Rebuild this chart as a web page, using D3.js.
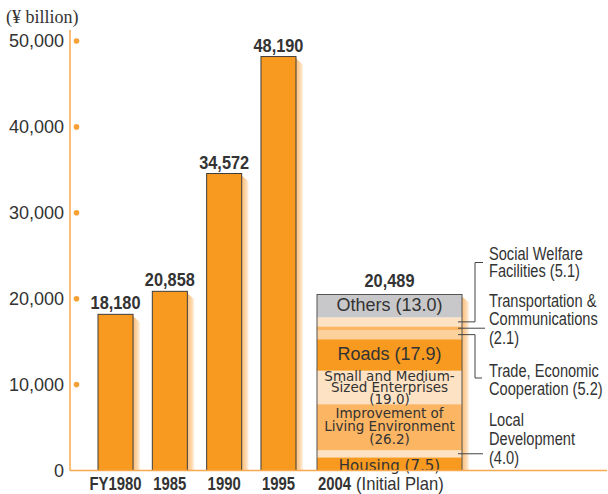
<!DOCTYPE html>
<html>
<head>
<meta charset="utf-8">
<script src="https://cdn.jsdelivr.net/npm/d3@7"></script>
<style>
  html, body { margin: 0; padding: 0; background: #fff; }
  svg { display: block; }
</style>
</head>
<body>
<div id="viz"></div>
<script>

// data
var years = ["FY1980", "1985", "1990", "1995"];
var totals = [18180, 20858, 34572, 48190];

var planYear = "2004";
var planNote = "(Initial Plan)";
var planTotal = 20489;
// shares (%) of the 2004 initial plan, bottom to top
var segNames = ["Housing", "Local Development", "Improvement of Living Environment",
  "Small and Medium-Sized Enterprises", "Roads", "Trade, Economic Cooperation",
  "Transportation & Communications", "Social Welfare Facilities", "Others"];
var segShares = [7.5, 4.0, 26.2, 19.0, 17.9, 5.2, 2.1, 5.1, 13.0];

var yTicks = [0, 10000, 20000, 30000, 40000, 50000];

var W = 608, H = 494;
var orange = "#f89a1f";
var axisCol = "#f9a94d";
var ink = "#333";
var sans = "'Liberation Sans', Arial, sans-serif";

var svg = d3.select("#viz").append("svg")
  .attr("width", W).attr("height", H);

var y = d3.scaleLinear().domain([0, 50000]).range([470.5, 41]);

var x = d3.scaleBand().domain(years).range([98, 296])
  .paddingInner(0.355).paddingOuter(0);

// the 2004 bar is wider, has its own span
var xPlan = d3.scaleBand().domain([planYear]).range([317, 462]);

// condensed text (no condensed face installed, so squash Liberation Sans)
// lines is a string or array, gap = line spacing
function ntext(px, py, anchor, size, weight, lines, gap, sq)
{
  if (typeof lines === "string") lines = [lines];
  var g = svg.append("g")
    .attr("transform", "translate(" + px + "," + py + ") scale(" + sq + ",1)");
  var t = g.append("text")
    .attr("text-anchor", anchor)
    .style("font-family", sans).style("font-weight", weight)
    .style("font-size", size + "px").style("fill", ink);
  lines.forEach(function(l, k) {
    t.append("tspan").attr("x", 0).attr("y", k * (gap || 0)).text(l);
  });
  return t;
}

// shadow gradient
var defs = svg.append("defs");
var grad = defs.append("linearGradient").attr("id", "shade")
  .attr("x1", "0%").attr("x2", "100%").attr("y1", "0%").attr("y2", "0%");
grad.append("stop").attr("offset", "0%").attr("stop-color", "#fbbd78");
grad.append("stop").attr("offset", "60%").attr("stop-color", "#fdd8ad");
grad.append("stop").attr("offset", "100%").attr("stop-color", "#fff4e6");

function shadow(x1, top)
{
  var w = 7;
  svg.append("path")
    .attr("d", "M" + x1 + "," + (top + 2) + " L" + (x1 + w) + "," + (top + 8) +
      " L" + (x1 + w) + "," + y(0) + " L" + x1 + "," + y(0) + "Z")
    .style("fill", "url(#shade)");
}

// unit label
svg.append("text")
  .attr("x", 6).attr("y", 23)
  .style("font-family", "'Liberation Serif', 'DejaVu Serif', serif")
  .style("font-size", "18px").style("fill", ink)
  .text("(\u00a5 billion)");

// y axis
svg.append("line")
  .attr("x1", 70).attr("x2", 70).attr("y1", 30).attr("y2", y(0))
  .style("stroke", axisCol).style("stroke-width", 1.5);

var fmt = d3.format(",");
svg.selectAll(".ytick").data(yTicks).enter().append("text")
  .attr("x", 64).attr("y", function(d) { return y(d); })
  .attr("dy", "0.36em")
  .attr("text-anchor", "end")
  .style("font-family", sans)
  .style("font-size", "18px").style("fill", ink)
  .text(function(d) { return fmt(d); });

svg.selectAll(".ydot").data(yTicks.filter(function(d) { return d > 0; })).enter()
  .append("circle")
  .attr("cx", 76.5).attr("cy", function(d) { return y(d); })
  .attr("r", 2.8).style("fill", "#f7a036");

// shadows first so bars sit on top
years.forEach(function(yr, i) {
  shadow(x(yr) + x.bandwidth(), y(totals[i]));
});
shadow(xPlan(planYear) + xPlan.bandwidth(), y(planTotal));

// simple bars
svg.selectAll(".bar").data(years).enter().append("rect")
  .attr("x", function(d) { return x(d); })
  .attr("y", function(d, i) { return y(totals[i]); })
  .attr("width", x.bandwidth())
  .attr("height", function(d, i) { return y(0) - y(totals[i]); })
  .style("fill", orange).style("stroke", "#3d3d3d").style("stroke-width", 1);

years.forEach(function(yr, i) {
  ntext(x(yr) + x.bandwidth() / 2, y(totals[i]) - 5, "middle", 19, "bold",
    fmt(totals[i]), 0, 0.86);
});

// stacked 2004 bar
var segColors = ["#f89a1f", "#fde2c4", "#fbb563", "#fde2c4", "#f89a1f",
  "#fdd19c", "#fbb563", "#fde2c4", "#c8c8ca"];
var cum = 0;
var segs = segShares.map(function(s, i) {
  var v0 = cum / 100 * planTotal;
  cum += s;
  var v1 = cum / 100 * planTotal;
  return { name: segNames[i], share: s, v0: v0, v1: v1, color: segColors[i] };
});

var px0 = xPlan(planYear), pw = xPlan.bandwidth(), pcx = px0 + pw / 2;

svg.selectAll(".seg").data(segs).enter().append("rect")
  .attr("x", px0).attr("width", pw)
  .attr("y", function(d) { return y(d.v1); })
  .attr("height", function(d) { return y(d.v0) - y(d.v1); })
  .style("fill", function(d) { return d.color; });

svg.append("rect")
  .attr("x", px0).attr("width", pw)
  .attr("y", y(planTotal)).attr("height", y(0) - y(planTotal))
  .style("fill", "none").style("stroke", "#555").style("stroke-width", 1);

ntext(pcx, y(planTotal) - 7, "middle", 19, "bold", fmt(planTotal), 0, 0.86);

// labels inside the stacked bar
function segMid(i) { return y((segs[i].v0 + segs[i].v1) / 2); }

function inLabel(lines, cy, size, gap, family)
{
  var t = svg.append("text")
    .attr("text-anchor", "middle")
    .style("font-family", family).style("font-size", size + "px").style("fill", ink);
  var first = cy - (lines.length - 1) * gap / 2 + size * 0.36;
  lines.forEach(function(l, k) {
    t.append("tspan").attr("x", pcx).attr("y", first + k * gap).text(l);
  });
}

var wide = "'DejaVu Sans', Verdana, sans-serif";
inLabel(["Others (" + segShares[8].toFixed(1) + ")"], segMid(8) - 1, 18, 0, sans);
inLabel(["Roads (" + segShares[4].toFixed(1) + ")"], segMid(4) - 1, 18, 0, sans);
inLabel(["Small and Medium-", "Sized Enterprises", "(" + segShares[3].toFixed(1) + ")"],
  segMid(3), 13.5, 11.5, wide);
inLabel(["Improvement of", "Living Environment", "(" + segShares[2].toFixed(1) + ")"],
  segMid(2) - 1, 13.5, 13, wide);
inLabel(["Housing (" + segShares[0].toFixed(1) + ")"], segMid(0) + 2, 15, 0, wide);

// call-outs on the right
var lineCol = "#444";
function path(pts)
{
  svg.append("path")
    .attr("d", d3.line()(pts))
    .style("fill", "none").style("stroke", lineCol).style("stroke-width", 1);
}
var lx0 = px0 + pw - 4, bx = 475, tx = 489;

path([[lx0, segMid(7)], [bx, segMid(7)], [bx, 262.5], [483, 262.5]]);
path([[lx0, segMid(6)], [485, segMid(6)]]);
path([[lx0, segMid(5)], [bx, segMid(5)], [bx, 378], [482, 378]]);
path([[lx0, segMid(1)], [483, segMid(1)]]);

var csz = 18.5, csq = 0.79;
ntext(tx, 260, "start", csz, "normal",
  ["Social Welfare", "Facilities (" + segShares[7].toFixed(1) + ")"], 17.5, csq);
ntext(tx, 307, "start", csz, "normal",
  ["Transportation &", "Communications", "(" + segShares[6].toFixed(1) + ")"], 18.5, csq);
ntext(tx, 377, "start", csz, "normal",
  ["Trade, Economic", "Cooperation (" + segShares[5].toFixed(1) + ")"], 18, csq);
ntext(tx, 426, "start", csz, "normal",
  ["Local", "Development", "(" + segShares[1].toFixed(1) + ")"], 19, csq);

// baseline over the bar bottoms
svg.append("line")
  .attr("x1", 70).attr("x2", 607).attr("y1", y(0)).attr("y2", y(0))
  .style("stroke", axisCol).style("stroke-width", 1.5);

// category labels
years.forEach(function(yr) {
  ntext(x(yr) + x.bandwidth() / 2, 490, "middle", 17.5, "bold", yr, 0, 0.85);
});

ntext(px0 + 1, 490, "start", 17.5, "bold", planYear, 0, 0.85);
ntext(px0 + 39, 490, "start", 17.5, "normal", planNote, 0, 0.95);

</script>
</body>
</html>
